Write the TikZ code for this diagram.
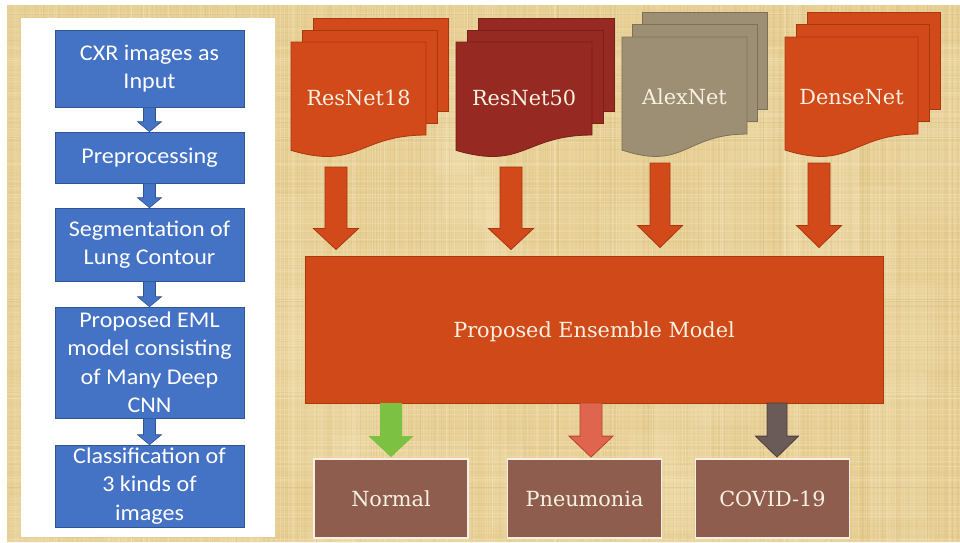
\documentclass[tikz,border=0pt]{standalone}
\usepackage{fontspec}
\newfontfamily\calfont[FakeStretch=1.07]{Carlito}
\newfontfamily\slabfont{DejaVu Serif}
\usetikzlibrary{calc}

\definecolor{parch}{HTML}{E8D096}
\definecolor{parchdark}{HTML}{C8A968}
\definecolor{parchlight}{HTML}{F7E8BF}
\definecolor{flowblue}{HTML}{4472C4}
\definecolor{flowedge}{HTML}{2F5597}
\definecolor{rust}{HTML}{D2491A}
\definecolor{rustedge}{HTML}{A8380F}
\definecolor{maroon}{HTML}{962A22}
\definecolor{maroonedge}{HTML}{76201A}
\definecolor{khaki}{HTML}{9D8F73}
\definecolor{khakiedge}{HTML}{7D7058}
\definecolor{ensfill}{HTML}{D04A19}
\definecolor{ensedge}{HTML}{A9390F}
\definecolor{outfill}{HTML}{8E5D4D}
\definecolor{outedge}{HTML}{F6EFE4}
\definecolor{cream}{HTML}{F8F1E2}
\definecolor{okgreen}{HTML}{7CC142}
\definecolor{salmon}{HTML}{E0654F}
\definecolor{salmonedge}{HTML}{B5432F}
\definecolor{slate}{HTML}{6A5A58}
\definecolor{slateedge}{HTML}{4B3E3C}

% block arrow from the middle of #2 straight down to the tip #3
% #4 half shaft width, #5 half head width, #6 head length
\newcommand\barrow[6]{%
  \path[#1] let \p1=(#2), \p2=(#3) in
    (\x1-#4pt,\y1) -- (\x1+#4pt,\y1) -- (\x1+#4pt,\y2+#6pt) -- (\x1+#5pt,\y2+#6pt)
    -- (\x1,\y2) -- (\x1-#5pt,\y2+#6pt) -- (\x1-#4pt,\y2+#6pt) -- cycle;}

% stack of three document sheets: fill, edge, x, y, width, height, dx, dy
\newcommand\docstack[8]{%
  \begin{scope}[draw=#2, fill=#1, line width=0.8pt]
    \pgfmathsetmacro\rb{#4+0.802*#6}
    \filldraw (#3+2*#7,#4-2*#8) rectangle (#3+#5+2*#7,\rb-2*#8);
    \filldraw (#3+#7,#4-#8) rectangle (#3+#5+#7,\rb-#8);
    \filldraw (#3,#4) -- (#3+#5,#4) -- (#3+#5,\rb)
      .. controls (#3+0.5*#5,\rb) and (#3+0.5*#5,#4+1.107*#6) .. (#3,#4+0.934*#6) -- cycle;
  \end{scope}}

\begin{document}
\begin{tikzpicture}[x=1pt,y=-1pt,
  flowbox/.style={rectangle, fill=flowblue, draw=flowedge, line width=0.6pt,
    minimum width=189pt, inner sep=0pt, text=white, align=center,
    font=\calfont\fontsize{22.5}{28.5}\selectfont},
  flowarrow/.style={fill=flowblue, draw=flowedge, line width=0.6pt},
  doclabel/.style={text=cream, inner sep=0pt, font=\slabfont\fontsize{20.8}{24}\selectfont},
  feedarrow/.style={fill=rust, draw=rustedge, line width=0.8pt},
  ensbox/.style={rectangle, fill=ensfill, draw=ensedge, line width=1pt,
    minimum width=578pt, minimum height=147pt, inner sep=0pt},
  outbox/.style={rectangle, fill=outfill, draw=outedge, line width=1.8pt,
    minimum width=154pt, minimum height=79pt, inner sep=0pt, text=cream,
    font=\slabfont\fontsize{20.8}{24}\selectfont}]

\useasboundingbox (0,0) rectangle (960,542);
\fill[white] (0,0) rectangle (960,542);

% parchment background with a fine woven grain
\fill[parch] (7,5) rectangle (960,542);
\begin{scope}
  \clip (7,5) rectangle (960,542);
  \pgfmathsetseed{4711}
  % soft lighter patches
  \foreach \i in {1,...,40}{
    \pgfmathsetmacro\xx{7+953*rnd}
    \pgfmathsetmacro\yy{5+537*rnd}
    \pgfmathsetmacro\ww{20+60*rnd}
    \fill[parchlight, opacity=0.18] (\xx,\yy) rectangle (\xx+\ww,\yy+2.5*\ww);
  }
  \foreach \i in {1,...,420}{
    \pgfmathsetmacro\xx{7+953*rnd}
    \pgfmathsetmacro\op{0.04+0.09*rnd}
    \draw[parchdark, opacity=\op, line width=0.5pt] (\xx,5) -- (\xx,542);
  }
  \foreach \i in {1,...,300}{
    \pgfmathsetmacro\xx{7+953*rnd}
    \pgfmathsetmacro\op{0.12+0.22*rnd}
    \draw[parchlight, opacity=\op, line width=0.7pt] (\xx,5) -- (\xx,542);
  }
  \foreach \i in {1,...,220}{
    \pgfmathsetmacro\yy{5+537*rnd}
    \pgfmathsetmacro\op{0.03+0.07*rnd}
    \draw[parchdark, opacity=\op, line width=0.5pt] (7,\yy) -- (960,\yy);
  }
  \foreach \i in {1,...,160}{
    \pgfmathsetmacro\yy{5+537*rnd}
    \pgfmathsetmacro\op{0.1+0.2*rnd}
    \draw[parchlight, opacity=\op, line width=0.6pt] (7,\yy) -- (960,\yy);
  }
\end{scope}

% left panel: processing pipeline
\fill[white] (21,18) rectangle (275,537);
\node[flowbox, minimum height=77pt]  (b1) at (149.5,68.5) {CXR images as\\Input};
\node[flowbox, minimum height=51pt]  (b2) at (149.5,157.5) {Preprocessing};
\node[flowbox, minimum height=73pt]  (b3) at (149.5,244.5) {Segmentation of\\Lung Contour};
\node[flowbox, minimum height=111pt] (b4) at (149.5,362.5) {Proposed EML\\model consisting\\of Many Deep\\CNN};
\node[flowbox, minimum height=82pt]  (b5) at (149.5,486) {Classification of\\3 kinds of\\images};
\barrow{flowarrow}{b1.south}{b2.north}{6}{12}{10}
\barrow{flowarrow}{b2.south}{b3.north}{6}{12}{10}
\barrow{flowarrow}{b3.south}{b4.north}{6}{12}{10}
\barrow{flowarrow}{b4.south}{b5.north}{6}{12}{10}

% base networks
\docstack{rust}{rustedge}{291}{42}{135}{116}{11}{12}
\docstack{maroon}{maroonedge}{456}{42}{136}{116}{11}{12}
\docstack{khaki}{khakiedge}{622}{37}{125}{121}{10}{12.5}
\docstack{rust}{rustedge}{785}{37}{133}{121}{11}{12.5}
\node[doclabel] (d1) at (358.5,98) {ResNet18};
\node[doclabel] (d2) at (524,98) {ResNet50};
\node[doclabel] (d3) at (684.5,97) {AlexNet};
\node[doclabel] (d4) at (851.5,97) {DenseNet};

% ensemble and outputs
\node[ensbox] (ens) at (594,329.5) {};
\node[doclabel] (enslabel) at (594,332) {Proposed Ensemble Model};

\coordinate (f1) at (336,167);
\coordinate (f2) at (511,167);
\coordinate (f3) at (660,163);
\coordinate (f4) at (819,163);
\barrow{feedarrow}{f1}{$(f1 |- ens.north)+(0,-6)$}{11}{22.5}{21}
\barrow{feedarrow}{f2}{$(f2 |- ens.north)+(0,-6)$}{11}{22.5}{21}
\barrow{feedarrow}{f3}{$(f3 |- ens.north)+(0,-8)$}{10}{22.5}{22}
\barrow{feedarrow}{f4}{$(f4 |- ens.north)+(0,-8)$}{11}{22.5}{22}

\node[outbox] (o1) at (391,498.5) {Normal};
\node[outbox] (o2) at (584.5,498.5) {Pneumonia};
\node[outbox] (o3) at (772.5,498.5) {COVID-19};

\coordinate (g1) at (391,403);
\coordinate (g2) at (591,403);
\coordinate (g3) at (777,403);
\barrow{fill=okgreen}{g1}{$(g1 |- o1.north)+(0,-1)$}{11}{22.5}{21}
\barrow{fill=salmon, draw=salmonedge, line width=0.8pt}{g2}{$(g2 |- o2.north)+(0,-1)$}{11}{22}{21}
\barrow{fill=slate, draw=slateedge, line width=0.8pt}{g3}{$(g3 |- o3.north)+(0,-1)$}{10}{21.5}{21}
\end{tikzpicture}
\end{document}
